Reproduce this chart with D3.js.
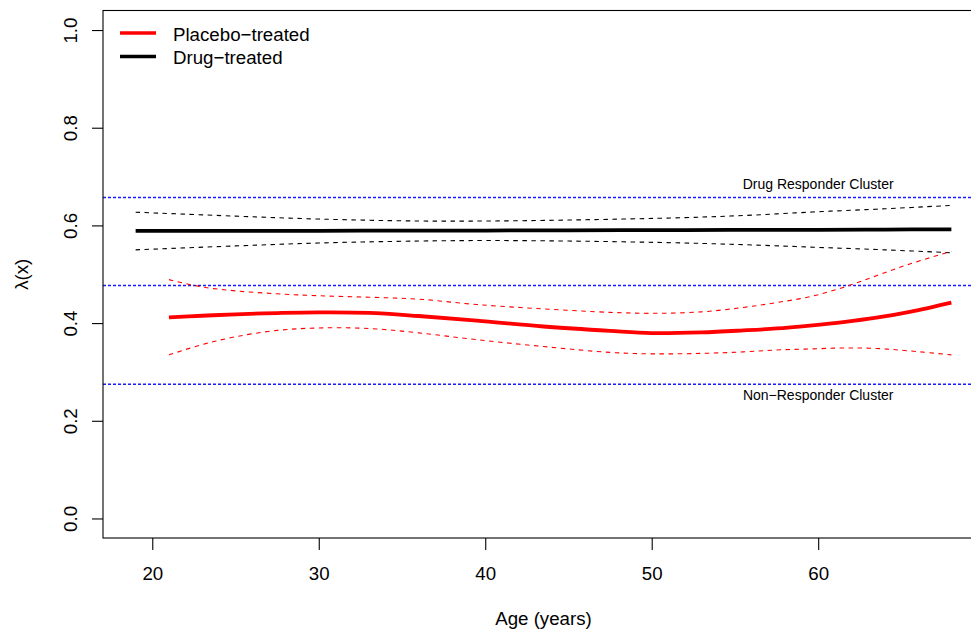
<!DOCTYPE html>
<html>
<head>
<meta charset="utf-8">
<script src="https://cdn.jsdelivr.net/npm/d3@7"></script>
<style>
  html, body { margin: 0; padding: 0; background: #fff; }
  svg { display: block; }
  text { font-family: "Liberation Sans", Arial, Helvetica, sans-serif; fill: #000; }
</style>
</head>
<body>
<svg id="chart" width="971" height="631"></svg>
<script>
// Age grid and estimated lambda(x) curves with pointwise bands
const placeboAge   = [21, 23, 25, 27.5, 30, 33, 36, 39.5, 43.5, 47.5, 50, 53, 55.5, 57.5, 59.5, 61.5, 63.5, 65.5, 68];
const placeboMean  = [0.4115, 0.415, 0.418, 0.4205, 0.422, 0.421, 0.4145, 0.405, 0.393, 0.384, 0.3795, 0.381, 0.385, 0.389, 0.395, 0.402, 0.411, 0.423, 0.442];
const placeboUpper = [0.489, 0.474, 0.466, 0.460, 0.456, 0.453, 0.449, 0.438, 0.429, 0.422, 0.420, 0.423, 0.432, 0.442, 0.454, 0.473, 0.497, 0.521, 0.547];
const placeboLower = [0.335, 0.356, 0.372, 0.385, 0.390, 0.389, 0.380, 0.366, 0.352, 0.340, 0.337, 0.338, 0.341, 0.345, 0.347, 0.349, 0.348, 0.343, 0.335];

const drugAge   = [19, 25, 30, 36, 40, 45, 52, 56, 60, 64, 68];
const drugMean  = [0.589, 0.589, 0.589, 0.5895, 0.5895, 0.590, 0.5905, 0.591, 0.591, 0.5915, 0.592];
const drugUpper = [0.627, 0.619, 0.613, 0.609, 0.609, 0.611, 0.616, 0.621, 0.628, 0.634, 0.641];
const drugLower = [0.550, 0.558, 0.564, 0.568, 0.569, 0.568, 0.564, 0.560, 0.555, 0.550, 0.544];

// Cluster reference levels
const clusterLevels = [0.657, 0.477, 0.275];
const clusterLabels = [
  { text: "Drug Responder Cluster", level: 0.657, side: "above" },
  { text: "Non\u2212Responder Cluster", level: 0.275, side: "below" }
];
const labelAge = 60;

const xTicks = [20, 30, 40, 50, 60];
const yTicks = [0.0, 0.2, 0.4, 0.6, 0.8, 1.0];

const legendItems = [
  { label: "Placebo\u2212treated", color: "#ff0000" },
  { label: "Drug\u2212treated", color: "#000000" }
];

(function draw() {
  const svg = d3.select("#chart");
  const mLeft = 103, mRight = 984, mTop = 10.5, mBottom = 538;
  const fontSize = 18.7;

  const x = d3.scaleLinear().domain([17.04, 69.96]).range([mLeft, mRight]);
  const y = d3.scaleLinear().domain([-0.04, 1.04]).range([mBottom, mTop]);

  const line = d3.line().x(d => x(d[0])).y(d => y(d[1])).curve(d3.curveCatmullRom.alpha(0.5));
  const zip = (a, b) => a.map((v, i) => [v, b[i]]);

  // Cluster levels (blue dotted)
  svg.selectAll("line.cluster").data(clusterLevels).enter().append("line")
    .attr("class", "cluster")
    .attr("x1", mLeft).attr("x2", mRight)
    .attr("y1", d => y(d)).attr("y2", d => y(d))
    .attr("stroke", "#1a1aff").attr("stroke-width", 1.5)
    .attr("stroke-dasharray", "3,2");

  svg.selectAll("text.cluster").data(clusterLabels).enter().append("text")
    .attr("class", "cluster")
    .attr("x", x(labelAge))
    .attr("y", d => d.side === "above" ? y(d.level) - 9 : y(d.level) + 16)
    .attr("text-anchor", "middle")
    .style("font-size", "14px")
    .text(d => d.text);

  // Confidence bands (dashed)
  const bands = [
    { age: drugAge, v: drugUpper, color: "#000" },
    { age: drugAge, v: drugLower, color: "#000" },
    { age: placeboAge, v: placeboUpper, color: "#ff0000" },
    { age: placeboAge, v: placeboLower, color: "#ff0000" }
  ];
  bands.forEach(b => {
    svg.append("path")
      .attr("d", line(zip(b.age, b.v)))
      .attr("fill", "none").attr("stroke", b.color)
      .attr("stroke-width", 1.1)
      .attr("stroke-dasharray", "4.5,4.5");
  });

  // Mean curves (solid, heavy)
  svg.append("path")
    .attr("d", line(zip(drugAge, drugMean)))
    .attr("fill", "none").attr("stroke", "#000").attr("stroke-width", 3.8);
  svg.append("path")
    .attr("d", line(zip(placeboAge, placeboMean)))
    .attr("fill", "none").attr("stroke", "#ff0000").attr("stroke-width", 3.8);

  // Plot box
  svg.append("rect")
    .attr("x", mLeft).attr("y", mTop)
    .attr("width", mRight - mLeft).attr("height", mBottom - mTop)
    .attr("fill", "none").attr("stroke", "#000").attr("stroke-width", 1.1);

  // X axis
  const gx = svg.append("g").attr("transform", `translate(0,${mBottom})`)
    .call(d3.axisBottom(x).tickValues(xTicks).tickSize(12).tickFormat(d3.format("d")));
  gx.select(".domain").remove();
  gx.selectAll("line").attr("stroke", "#000").attr("stroke-width", 1.1);
  gx.selectAll("text").attr("y", 42).attr("dy", 0)
    .style("font-size", fontSize + "px").attr("fill", "#000")
    .attr("font-family", null);

  // Y axis with rotated labels
  const gy = svg.append("g").attr("transform", `translate(${mLeft},0)`)
    .call(d3.axisLeft(y).tickValues(yTicks).tickSize(11).tickFormat(d3.format(".1f")));
  gy.select(".domain").remove();
  gy.selectAll("line").attr("stroke", "#000").attr("stroke-width", 1.1);
  gy.selectAll("text")
    .attr("x", 0).attr("dy", 0)
    .attr("transform", "translate(-26,0) rotate(-90)")
    .attr("text-anchor", "middle")
    .style("font-size", fontSize + "px").attr("fill", "#000")
    .attr("font-family", null);

  // Axis titles
  svg.append("text")
    .attr("x", (mLeft + mRight) / 2).attr("y", 625)
    .attr("text-anchor", "middle")
    .style("font-size", fontSize + "px")
    .text("Age (years)");
  svg.append("text")
    .attr("transform", `translate(28,${(mTop + mBottom) / 2}) rotate(-90)`)
    .attr("text-anchor", "middle")
    .style("font-size", fontSize + "px")
    .text("\u03bb(x)");

  // Legend
  const lg = svg.append("g");
  legendItems.forEach((d, i) => {
    const ly = 33 + i * 23.5;
    lg.append("line")
      .attr("x1", 120).attr("x2", 156).attr("y1", ly).attr("y2", ly)
      .attr("stroke", d.color).attr("stroke-width", 3.6);
    lg.append("text")
      .attr("x", 173).attr("y", ly + 7.5)
      .style("font-size", fontSize + "px")
      .text(d.label);
  });
})();
</script>
</body>
</html>
